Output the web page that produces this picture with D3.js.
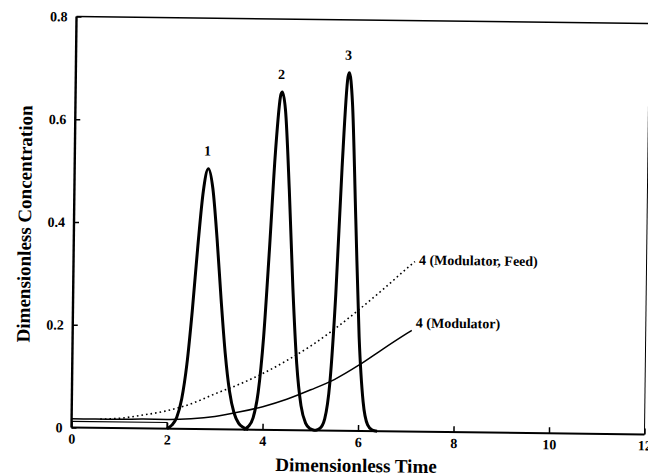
<!DOCTYPE html>
<html>
<head>
<meta charset="utf-8">
<script src="https://cdn.jsdelivr.net/npm/d3@7"></script>
<style>
  body { margin: 0; background: #fff; }
  svg { display: block; background: #fff; }
  text { font-family: "Liberation Serif", "Times New Roman", serif; font-weight: bold; fill: #000; }
</style>
</head>
<body>
<div id="chart"></div>
<script>
// tick values
var xTicks = [0, 2, 4, 6, 8, 10, 12];
var yTicks = [0, 0.2, 0.4, 0.6, 0.8];

// component 1-3 peaks
var peak1X = [2.0, 2.1, 2.2, 2.3, 2.4, 2.5, 2.6, 2.7, 2.8, 2.9, 3.0, 3.1, 3.2, 3.3, 3.4, 3.5, 3.6, 3.7];
var peak1Y = [0.0, 0.007, 0.022, 0.058, 0.126, 0.231, 0.357, 0.463, 0.507, 0.468, 0.371, 0.253, 0.148, 0.074, 0.032, 0.012, 0.004, 0.0];
var peak2X = [3.6, 3.7, 3.8, 3.9, 4.0, 4.1, 4.2, 4.3, 4.33, 4.4, 4.5, 4.6, 4.7, 4.8, 4.9, 5.0, 5.1];
var peak2Y = [0.0, 0.006, 0.023, 0.073, 0.181, 0.352, 0.540, 0.653, 0.658, 0.623, 0.468, 0.277, 0.129, 0.048, 0.014, 0.003, 0.0];
var peak3X = [5.1, 5.2, 5.3, 5.4, 5.5, 5.6, 5.7, 5.73, 5.8, 5.9, 6.0, 6.1, 6.2, 6.3, 6.4];
var peak3Y = [0.0, 0.004, 0.023, 0.095, 0.265, 0.513, 0.688, 0.697, 0.640, 0.412, 0.183, 0.057, 0.012, 0.002, 0.0];
var peakNames = ["1", "2", "3"];

// component 4 (modulator) and its feed
var modX = [0, 0.5, 1, 1.5, 2, 2.5, 3, 3.5, 4, 4.5, 5, 5.5, 6, 6.5, 7, 7.1];
var modY = [0.017, 0.017, 0.017, 0.018, 0.018, 0.020, 0.025, 0.034, 0.045, 0.060, 0.079, 0.100, 0.128, 0.160, 0.191, 0.197];
var feedX = [0.6, 1.0, 1.5, 2.0, 2.5, 3.0, 3.5, 4.0, 4.5, 5.0, 5.5, 6.0, 6.5, 7.0, 7.15];
var feedY = [0.017, 0.019, 0.026, 0.035, 0.049, 0.069, 0.088, 0.110, 0.136, 0.165, 0.199, 0.237, 0.277, 0.319, 0.331];
// feed pulse at the start
var pulseX = [0, 2, 2];
var pulseY = [0.012, 0.012, 0];

var width = 648;
var height = 476;
var margin = {left: 74, right: 1, top: 20, bottom: 45};

var svg = d3.select('#chart')
    .append('svg')
    .attr('width', width)
    .attr('height', height);

// the scan is a little tilted
var g = svg.append('g')
    .attr('transform', 'rotate(0.7,361,225)');

var x = d3.scaleLinear()
    .domain([0, 12])
    .range([margin.left, width - margin.right]);

var y = d3.scaleLinear()
    .domain([0, 0.8])
    .range([height - margin.bottom, margin.top]);

function pts(xs, ys) {
    return xs.map(function (d, i) { return [d, ys[i]]; });
}

var line = d3.line()
    .x(function (d) { return x(d[0]); })
    .y(function (d) { return y(d[1]); })
    .curve(d3.curveMonotoneX);

// axes, ticks pointing inward
var xAxis = g.append('g')
    .attr('transform', 'translate(0,' + y(0) + ')')
    .call(d3.axisBottom(x).tickValues(xTicks).tickFormat(d3.format('d'))
        .tickSizeInner(-6).tickSizeOuter(0).tickPadding(6));
xAxis.select('.domain').remove();

var yAxis = g.append('g')
    .attr('transform', 'translate(' + x(0) + ',0)')
    .call(d3.axisLeft(y).tickValues(yTicks)
        .tickFormat(function (d) { return d === 0 ? '0' : d3.format('.1f')(d); })
        .tickSizeInner(-5).tickSizeOuter(0).tickPadding(9));
yAxis.select('.domain').remove();

g.selectAll('.tick line').attr('stroke', '#000').attr('stroke-width', 1.5);
g.selectAll('.tick text')
    .attr('fill', '#000')
    .style('font-size', '14px')
    .style('font-family', '"Liberation Serif", serif')
    .style('font-weight', 'bold');

// frame
g.append('line')
    .attr('x1', x(0)).attr('x2', x(0))
    .attr('y1', y(0)).attr('y2', y(0.8))
    .attr('stroke', '#000').attr('stroke-width', 2.4);
g.append('line')
    .attr('x1', x(0)).attr('x2', x(12))
    .attr('y1', y(0)).attr('y2', y(0))
    .attr('stroke', '#000').attr('stroke-width', 2);
g.append('line')
    .attr('x1', x(0)).attr('x2', x(12))
    .attr('y1', y(0.8)).attr('y2', y(0.8))
    .attr('stroke', '#000').attr('stroke-width', 1.6);
g.append('line')
    .attr('x1', x(12)).attr('x2', x(12))
    .attr('y1', y(0)).attr('y2', y(0.8))
    .attr('stroke', '#000').attr('stroke-width', 1);

// feed pulse
g.append('path')
    .attr('d', d3.line().x(function (d) { return x(d[0]); }).y(function (d) { return y(d[1]); })(pts(pulseX, pulseY)))
    .attr('fill', 'none')
    .attr('stroke', '#000')
    .attr('stroke-width', 1.2);

// modulator curves
g.append('path')
    .attr('d', line(pts(feedX, feedY)))
    .attr('fill', 'none')
    .attr('stroke', '#000')
    .attr('stroke-width', 1.6)
    .attr('stroke-dasharray', '1.6,3');

g.append('path')
    .attr('d', line(pts(modX, modY)))
    .attr('fill', 'none')
    .attr('stroke', '#000')
    .attr('stroke-width', 1.5);

// peaks
var peaks = [pts(peak1X, peak1Y), pts(peak2X, peak2Y), pts(peak3X, peak3Y)];

g.selectAll('.peak')
    .data(peaks)
    .enter().append('path')
    .attr('class', 'peak')
    .attr('d', line)
    .attr('fill', 'none')
    .attr('stroke', '#000')
    .attr('stroke-width', 3)
    .attr('stroke-linejoin', 'round');

g.selectAll('.peakName')
    .data(peaks)
    .enter().append('text')
    .attr('class', 'peakName')
    .attr('x', function (d) {
        var top = d3.greatest(d, function (p) { return p[1]; });
        return x(top[0]) - 1;
    })
    .attr('y', function (d) {
        var top = d3.greatest(d, function (p) { return p[1]; });
        return y(top[1]) - 13;
    })
    .attr('text-anchor', 'middle')
    .style('font-size', '14px')
    .text(function (d, i) { return peakNames[i]; });

// curve labels at the line ends
var feedEnd = [feedX[feedX.length - 1], feedY[feedY.length - 1]];
var modEnd = [modX[modX.length - 1], modY[modY.length - 1]];

g.append('text')
    .attr('x', x(feedEnd[0]) + 4)
    .attr('y', y(feedEnd[1]) + 3)
    .style('font-size', '14px')
    .text('4 (Modulator, Feed)');

g.append('text')
    .attr('x', x(modEnd[0]) + 4)
    .attr('y', y(modEnd[1]) - 3)
    .style('font-size', '14px')
    .text('4 (Modulator)');

// axis titles
g.append('text')
    .attr('x', 359)
    .attr('y', 472)
    .attr('text-anchor', 'middle')
    .style('font-size', '19px')
    .text('Dimensionless Time');

g.append('text')
    .attr('transform', 'translate(31,228) rotate(-90)')
    .attr('text-anchor', 'middle')
    .style('font-size', '19px')
    .text('Dimensionless Concentration');
</script>
</body>
</html>
